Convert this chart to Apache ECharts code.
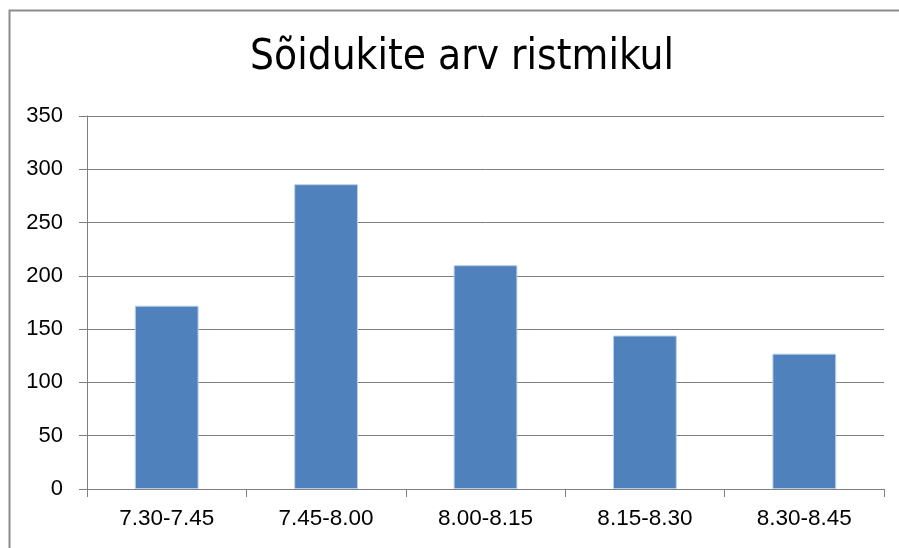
<!DOCTYPE html>
<html>
<head>
<meta charset="utf-8">
<script src="https://cdn.jsdelivr.net/npm/echarts@6/dist/echarts.min.js"></script>
<style>
html,body{margin:0;padding:0;background:#fff;}
#c{width:899px;height:548px;}
</style>
</head>
<body>
<div id="c"></div>
<script>
const titleText = "Sõidukite arv ristmikul";
const categories = ["7.30-7.45", "7.45-8.00", "8.00-8.15", "8.15-8.30", "8.30-8.45"];
const vehicleCounts = [172, 286, 210, 144, 127];
const yMin = 0, yMax = 350, yStep = 50;

const chart = echarts.init(document.getElementById('c'), null, {renderer: 'canvas'});
chart.setOption({
  animation: false,
  backgroundColor: '#ffffff',
  graphic: [{
    type: 'rect',
    shape: {x: 9.5, y: 10.5, width: 1000, height: 1000},
    style: {fill: 'none', stroke: '#8c8c8c', lineWidth: 2},
    silent: true
  }],
  title: {
    text: titleText,
    left: 457,
    top: 32,
    textAlign: 'center',
    textStyle: {
      fontFamily: '"Liberation Sans Narrow", "DejaVu Sans Condensed", sans-serif',
      fontSize: 42,
      fontWeight: 'normal',
      color: '#000'
    }
  },
  grid: {left: 87, right: 15, top: 116, bottom: 59, containLabel: false},
  xAxis: {
    type: 'category',
    data: categories,
    axisLine: {lineStyle: {color: '#7f7f7f', width: 1}},
    axisTick: {show: true, length: 8, lineStyle: {color: '#7f7f7f'}, alignWithLabel: false},
    axisLabel: {margin: 18, fontFamily: '"Liberation Sans Narrow", Arial, sans-serif', fontSize: 22.5, color: '#000'},
    splitLine: {show: false}
  },
  yAxis: {
    type: 'value',
    min: yMin,
    max: yMax,
    interval: yStep,
    axisLine: {show: true, lineStyle: {color: '#7f7f7f', width: 1}},
    axisTick: {show: true, length: 8, lineStyle: {color: '#7f7f7f'}},
    axisLabel: {margin: 24, fontFamily: '"Liberation Sans", Arial, sans-serif', fontSize: 22, color: '#000'},
    splitLine: {show: true, lineStyle: {color: '#7f7f7f', width: 1}}
  },
  series: [{
    type: 'bar',
    data: vehicleCounts,
    barWidth: '40%',
    itemStyle: {color: '#4f81bd', borderColor: '#b9cde5', borderWidth: 1}
  }]
});
</script>
</body>
</html>
